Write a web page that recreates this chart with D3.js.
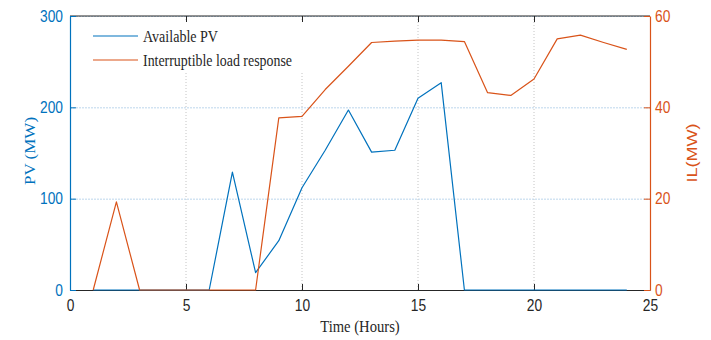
<!DOCTYPE html>
<html>
<head>
<meta charset="utf-8">
<script src="https://cdn.jsdelivr.net/npm/d3@7"></script>
<style>
  html, body { margin: 0; padding: 0; background: #fff; }
  svg { display: block; }
</style>
</head>
<body>
<svg id="chart" width="711" height="340"></svg>
<script>
// Hourly profile of available PV and interruptible load response
const hours = [1, 2, 3, 4, 5, 6, 7, 8, 9, 10, 11, 12, 13, 14, 15, 16, 17, 18, 19, 20, 21, 22, 23, 24];
const pvAvailable = [0, 0, 0, 0, 0, 0, 129, 19, 54, 112, 153, 197, 151, 153, 210, 227, 0, 0, 0, 0, 0, 0, 0, 0];
const ilResponse = [0, 19.3, 0, 0, 0, 0, 0, 0, 37.7, 38, 43.9, 49, 54.2, 54.5, 54.7, 54.7, 54.4, 43.2, 42.6, 46.2, 55, 55.8, 54.2, 52.7];
const xTicks = [0, 5, 10, 15, 20, 25];
const pvTicks = [0, 100, 200, 300];
const ilTicks = [0, 20, 40, 60];
const seriesNames = ["Available PV", "Interruptible load response"];

const BLUE = "#0072BD", ORANGE = "#D95319", INK = "#262626";
const SERIF = "'Liberation Serif', 'Times New Roman', serif";
const SANS = "'Liberation Sans', Arial, sans-serif";
const SQUEEZE = 0.86;

const plotLeft = 70, plotRight = 650, plotTop = 16, plotBottom = 290;
const svg = d3.select("#chart");

const x = d3.scaleLinear().domain([0, 25]).range([plotLeft, plotRight]);
const yPV = d3.scaleLinear().domain([0, 300]).range([plotBottom, plotTop]);
const yIL = d3.scaleLinear().domain([0, 60]).range([plotBottom, plotTop]);

// grid
const grid = svg.append("g");
grid.selectAll("line.v").data(xTicks.slice(1, -1)).join("line")
  .attr("x1", d => x(d)).attr("x2", d => x(d))
  .attr("y1", plotTop).attr("y2", plotBottom)
  .attr("stroke", "#c4c4c4").attr("stroke-width", 1).attr("stroke-dasharray", "1,2");
grid.selectAll("line.h").data(pvTicks.slice(1)).join("line")
  .attr("x1", plotLeft).attr("x2", plotRight)
  .attr("y1", d => yPV(d) + 0.5).attr("y2", d => yPV(d) + 0.5)
  .attr("stroke", "#bcd6ec").attr("stroke-width", 1).attr("stroke-dasharray", "2,1");

// legend backdrop hides the grid behind it
svg.append("rect").attr("x", 80).attr("y", 20).attr("width", 226).attr("height", 53).attr("fill", "#fff");

// box top edge
svg.append("line").attr("x1", plotLeft).attr("x2", plotRight).attr("y1", plotTop).attr("y2", plotTop)
  .attr("stroke", INK).attr("stroke-width", 1.2);

// axes
const styleAxis = (g, color) => {
  g.selectAll("path.domain").attr("stroke", color).attr("stroke-width", 1.2);
  g.selectAll(".tick line").attr("stroke", color).attr("stroke-width", 1);
  g.selectAll(".tick text").attr("fill", color).style("font-family", SANS).style("font-size", "16px");
};

const gx = svg.append("g").attr("transform", `translate(0,${plotBottom})`)
  .call(d3.axisBottom(x).tickValues(xTicks).tickSizeInner(-6).tickSizeOuter(0).tickPadding(10));
styleAxis(gx, INK);

const gxTop = svg.append("g").attr("transform", `translate(0,${plotTop})`)
  .call(d3.axisTop(x).tickValues(xTicks.slice(1, -1)).tickSizeInner(-6).tickSizeOuter(0).tickFormat(""));
gxTop.select("path.domain").remove();
gxTop.selectAll(".tick line").attr("stroke", INK);

const gl = svg.append("g").attr("transform", `translate(${plotLeft},0)`)
  .call(d3.axisLeft(yPV).tickValues(pvTicks).tickSizeInner(-6).tickSizeOuter(0).tickPadding(7));
styleAxis(gl, BLUE);

const gr = svg.append("g").attr("transform", `translate(${plotRight},0)`)
  .call(d3.axisRight(yIL).tickValues(ilTicks).tickSizeInner(-6).tickSizeOuter(0).tickPadding(5));
styleAxis(gr, ORANGE);

// series lines
const pvLine = d3.line().x((d, i) => x(hours[i])).y(d => yPV(d));
const ilLine = d3.line().x((d, i) => x(hours[i])).y(d => yIL(d));
svg.append("path").datum(pvAvailable).attr("d", pvLine)
  .attr("fill", "none").attr("stroke", BLUE).attr("stroke-width", 1.2).attr("stroke-linejoin", "round");
svg.append("path").datum(ilResponse).attr("d", ilLine)
  .attr("fill", "none").attr("stroke", ORANGE).attr("stroke-width", 1.2).attr("stroke-linejoin", "round");

// legend
const legend = svg.append("g");
const legendTextWidth = [75, 149];
[BLUE, ORANGE].forEach((c, i) => {
  const yy = 36 + i * 24;
  legend.append("line").attr("x1", 93).attr("x2", 138).attr("y1", yy).attr("y2", yy)
    .attr("stroke", c).attr("stroke-width", 1.2);
  legend.append("text").attr("x", 143).attr("y", yy + 6)
    .style("font-family", SERIF).style("font-size", "17px").attr("fill", INK)
    .attr("textLength", legendTextWidth[i]).attr("lengthAdjust", "spacingAndGlyphs")
    .text(seriesNames[i]);
});

// axis titles
svg.append("text").attr("class", "squeeze").attr("x", 360).attr("y", 332)
  .attr("text-anchor", "middle").style("font-family", SERIF).style("font-size", "17px")
  .attr("fill", INK).text("Time (Hours)");

svg.append("text")
  .attr("transform", `translate(35,${(plotTop + plotBottom) / 2 - 2}) rotate(-90) scale(1,${SQUEEZE})`)
  .attr("text-anchor", "middle").style("font-family", SERIF).style("font-size", "17px")
  .attr("fill", BLUE).text("PV (MW)");

svg.append("text")
  .attr("transform", `translate(697,${(plotTop + plotBottom) / 2}) rotate(-90) scale(1,${SQUEEZE * 0.95})`)
  .attr("text-anchor", "middle").style("font-family", SANS).style("font-size", "18px")
  .attr("fill", ORANGE).text("IL(MW)");

// condense horizontal text slightly
svg.selectAll(".tick text, text.squeeze").each(function () {
  const w = this.getComputedTextLength();
  if (w > 0) d3.select(this).attr("textLength", w * SQUEEZE).attr("lengthAdjust", "spacingAndGlyphs");
});
</script>
</body>
</html>
